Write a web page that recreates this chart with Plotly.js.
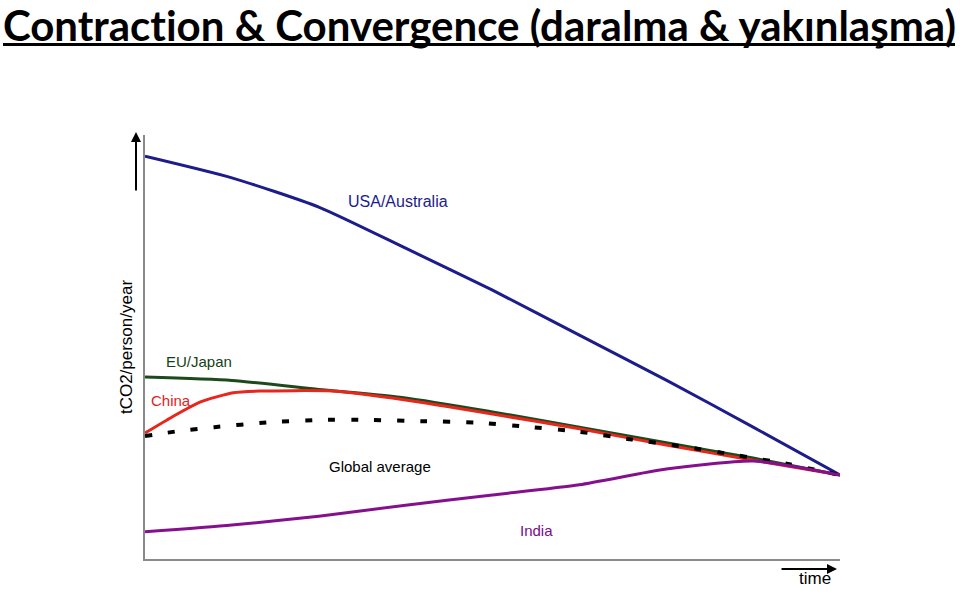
<!DOCTYPE html>
<html>
<head>
<meta charset="utf-8">
<script src="https://cdn.plot.ly/plotly-3.0.1.min.js"></script>
<style>html,body{margin:0;padding:0;background:#fff;}#chart{width:960px;height:596px;}text{font-variant-ligatures:none;font-feature-settings:"liga" 0;}</style>
</head>
<body>
<div id="chart"></div>
<script>
// Time axis (arbitrary units 0..100) and emissions index (arbitrary units 0..100)
const usaTime   = [0, 12.5, 25, 37.5, 50, 62.5, 75, 87.5, 100];
const usaValues = [95.0, 89.9, 83.0, 73.3, 63.4, 52.8, 42.2, 31.1, 19.8];

const euTime   = [0, 12.5, 25, 37.5, 50, 62.5, 75, 87.5, 100];
const euValues = [42.9, 42.1, 40.0, 38.0, 34.7, 31.1, 27.4, 23.8, 19.8];

const chinaTime   = [0, 3.9, 7.9, 12.7, 16.5, 27.0, 37.5, 50, 62.5, 75, 87.5, 100];
const chinaValues = [29.7, 33.5, 37.0, 39.2, 39.6, 39.6, 37.5, 34.2, 30.7, 26.9, 23.3, 19.8];

const globalTime   = [0, 5, 10, 17.5, 25, 32.5, 40, 47.5, 55, 62.5, 70, 77.5, 85, 92.5, 100];
const globalValues = [29.0, 30.2, 31.1, 32.2, 32.8, 32.8, 32.5, 32.2, 31.2, 30.0, 28.2, 26.5, 24.5, 22.4, 19.8];

const indiaTime   = [0, 12.5, 25, 37.5, 50, 62.5, 75, 87.5, 100];
const indiaValues = [6.4, 8.0, 10.1, 12.7, 15.1, 17.5, 21.2, 23.1, 19.8];

const seriesLabels = ["USA/Australia", "EU/Japan", "China", "Global average", "India"];
const titleText = "Contraction & Convergence (daralma & yakınlaşma)";
const yTitle = "tCO2/person/year";
const xTitle = "time";

const traces = [
  {x: usaTime, y: usaValues, name: seriesLabels[0], mode: "lines", line: {color: "#1c1c8a", width: 3, shape: "spline", smoothing: 0.6}},
  {x: euTime, y: euValues, name: seriesLabels[1], mode: "lines", line: {color: "#1c4a1c", width: 3, shape: "spline", smoothing: 0.6}},
  {x: chinaTime, y: chinaValues, name: seriesLabels[2], mode: "lines", line: {color: "#e8261c", width: 3, shape: "spline", smoothing: 0.6}},
  {x: globalTime, y: globalValues, name: seriesLabels[3], mode: "lines", line: {color: "#000000", width: 4, dash: "7px,16px", shape: "spline", smoothing: 0.6}},
  {x: indiaTime, y: indiaValues, name: seriesLabels[4], mode: "lines", line: {color: "#84108e", width: 3, shape: "spline", smoothing: 0.6}}
];

const lblFont = (c, s) => ({family: "Liberation Sans, Arial, sans-serif", size: s, color: c});
const lbl = (t, x, y, c, s) => ({text: t, x: x, y: y, xref: "paper", yref: "paper", showarrow: false,
  xanchor: "center", yanchor: "middle", font: lblFont(c, s)});

const layout = {
  width: 960, height: 596,
  paper_bgcolor: "#ffffff", plot_bgcolor: "#ffffff",
  margin: {l: 145, r: 120, t: 135, b: 37, pad: 0},
  showlegend: false,
  title: {
    text: titleText,
    font: {family: "Lato, Calibri, sans-serif", size: 42, color: "#000000", weight: "bold"},
    xref: "container", yref: "container",
    x: 0.003, xanchor: "left", y: 0.98, yanchor: "top",
    pad: {t: 0, l: 0}
  },
  xaxis: {
    range: [0, 100], showgrid: false, zeroline: false, showticklabels: false, ticks: "",
    showline: true, linecolor: "#8a8a8a", linewidth: 2, fixedrange: true
  },
  yaxis: {
    range: [0, 100], showgrid: false, zeroline: false, showticklabels: false, ticks: "",
    showline: true, linecolor: "#8a8a8a", linewidth: 2, fixedrange: true,
    title: {text: yTitle, font: lblFont("#000000", 17), standoff: 6}
  },
  shapes: [
    {type: "line", xref: "paper", yref: "paper", x0: -0.2043, x1: 1.1655, y0: 1.2134, y1: 1.2134,
     line: {color: "#000000", width: 3}}
  ],
  annotations: [
    lbl(seriesLabels[0], 0.364, 0.844, "#1c1c8a", 16),
    lbl(seriesLabels[1], 0.078, 0.465, "#163f16", 15),
    lbl(seriesLabels[2], 0.037, 0.373, "#e3221a", 15),
    lbl(seriesLabels[3], 0.338, 0.219, "#000000", 15),
    lbl(seriesLabels[4], 0.563, 0.068, "#7a0c86", 15),
    lbl(xTitle, 0.964, -0.045, "#000000", 17),
    {text: "", x: -0.01295, y: 1.0071, xref: "paper", yref: "paper", showarrow: true, ax: 0, ay: 60,
     arrowhead: 2, arrowsize: 1, arrowwidth: 2, arrowcolor: "#000000"},
    {text: "", x: 0.9957, y: -0.0236, xref: "paper", yref: "paper", showarrow: true, ax: -57, ay: 0,
     arrowhead: 2, arrowsize: 1, arrowwidth: 2, arrowcolor: "#000000"}
  ]
};

Plotly.newPlot("chart", traces, layout, {staticPlot: true, displayModeBar: false});
</script>
</body>
</html>
